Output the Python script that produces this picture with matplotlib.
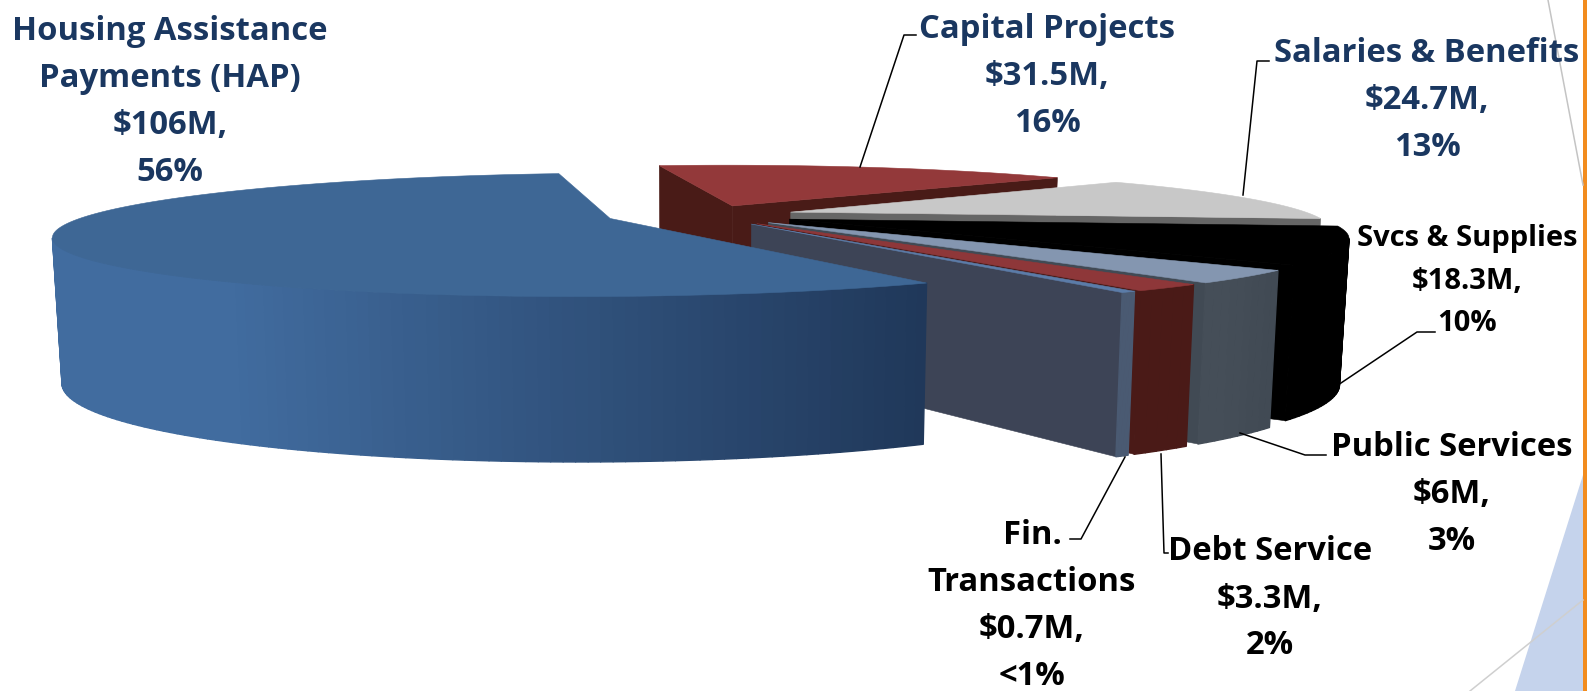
"""Exploded 3D pie of the budget split, projected by hand since matplotlib has no perspective pie."""

import numpy as np
import matplotlib
matplotlib.use("Agg")
import matplotlib.pyplot as plt
from matplotlib.collections import PolyCollection
from matplotlib.colors import to_rgb
from matplotlib.patches import Polygon

plt.rcParams["font.family"] = ["Open Sans", "DejaVu Sans"]

# Data, clockwise from the back of the pie
categories = ["Capital Projects", "Salaries & Benefits", "Svcs & Supplies", "Public Services",
              "Debt Service", "Fin.\nTransactions", "Housing Assistance\nPayments (HAP)"]
amounts = [31.5, 24.7, 18.3, 6.0, 3.3, 0.7, 106.0]
amount_labels = ["$31.5M,", "$24.7M,", "$18.3M,", "$6M,", "$3.3M,", "$0.7M,", "$106M,"]
share_labels = ["16%", "13%", "10%", "3%", "2%", "<1%", "56%"]

# Colours per slice: top, radial wall, arc wall (near end, far end)
top_colors = ["#93393a", "#c8c8c8", "#000000", "#8496b0", "#8e3739", "#5b7ca8", "#3e6795"]
cut_colors = ["#491b17", "#666666", "#000000", "#414a54", "#4a1a17", "#3d4456", "#1f3654"]
arc_colors = [("#491b17", "#491b17"), ("#666666", "#666666"), ("#000000", "#000000"),
              ("#414a54", "#454e58"), ("#4a1a17", "#4a1a17"), ("#4a5a72", "#4a5a72"),
              ("#20385a", "#416c9f")]
navy = "#1a3760"

# Projection settings, pixels
W, H = 1587, 691
CX, CY = 701, 215
RADIUS = 522
EXPLODE = 95
TILT = 0.1064
PERSP = 0.0005
DEPTH = 137
DEPTH_PERSP = 0.00031
BOTTOM_SHRINK = 1.015
START_ANGLE = -9.6


def project(x, y, bottom=False):
    w = 1 + PERSP * y
    if not bottom:
        return CX + x / w, CY - TILT * y / w
    return (CX + x / (w * BOTTOM_SHRINK),
            CY - TILT * y / w + DEPTH / (1 + DEPTH_PERSP * y))


def slice_points(a0, a1):
    """World coordinates of apex and outer arc, angles clockwise from the back."""
    mid = np.radians((a0 + a1) / 2)
    ox, oy = EXPLODE * np.sin(mid), EXPLODE * np.cos(mid)
    th = np.radians(np.linspace(a0, a1, max(int(a1 - a0), 6)))
    return ox, oy, ox + RADIUS * np.sin(th), oy + RADIUS * np.cos(th)


def facing(quad):
    """Signed area test in screen space (y down), true if the wall faces the camera."""
    q = np.asarray(quad)
    x, y = q[:, 0], q[:, 1]
    return np.sum(x * np.roll(y, -1) - np.roll(x, -1) * y) < 0


def wall_quad(x0, y0, x1, y1):
    return [project(x0, y0), project(x1, y1), project(x1, y1, True), project(x0, y0, True)]


def draw_slice(ax, a0, a1, top, cut, arc):
    ox, oy, xs, ys = slice_points(a0, a1)

    # Radial cut faces
    for quad in (wall_quad(ox, oy, xs[0], ys[0]), wall_quad(xs[-1], ys[-1], ox, oy)):
        if facing(quad):
            ax.add_patch(Polygon(quad, closed=True, fc=cut, ec=cut, lw=0.4))

    # Outer wall, shaded left to right across what is visible
    quads = []
    for i in range(len(xs) - 1):
        quad = wall_quad(xs[i], ys[i], xs[i + 1], ys[i + 1])
        if facing(quad):
            quads.append(quad)
    if quads:
        mid_x = np.array([np.mean(np.asarray(q)[:, 0]) for q in quads])
        span = max(np.ptp(mid_x), 1.0)
        t = np.clip((mid_x.max() - mid_x) / (0.8 * span), 0, 1)[:, None]
        c0, c1 = np.array(to_rgb(arc[0])), np.array(to_rgb(arc[1]))
        colors = c0 + (c1 - c0) * t
        ax.add_collection(PolyCollection(quads, facecolors=colors, edgecolors=colors, linewidths=1.0))

    # Top face
    px, py = project(xs, ys)
    ax_x, ax_y = project(ox, oy)
    outline = np.column_stack([np.r_[ax_x, px], np.r_[ax_y, py]])
    ax.add_patch(Polygon(outline, closed=True, fc=top, ec=top, lw=0.4))


def draw_backdrop(ax):
    # Slide theme pieces around the chart
    ax.add_patch(Polygon([(1583, 475), (1583, 691), (1515, 691)], closed=True, fc="#c5d3ec", ec="none"))
    ax.plot([1548, 1583], [0, 185], color="#c4c4c4", lw=1.1)
    ax.plot([1470, 1583], [691, 600], color="#cfcfcf", lw=1.1)
    ax.add_patch(Polygon([(1583, 0), (1587, 0), (1587, 691), (1583, 691)], closed=True, fc="#f28c1e", ec="none"))


def main():
    fig = plt.figure(figsize=(W / 100, H / 100), dpi=100)
    ax = fig.add_axes([0, 0, 1, 1])
    ax.set_xlim(0, W)
    ax.set_ylim(H, 0)
    ax.axis("off")

    draw_backdrop(ax)

    sweep = np.array(amounts) / sum(amounts) * 360
    edges = START_ANGLE + np.r_[0, np.cumsum(sweep)]
    for i in range(len(amounts)):
        draw_slice(ax, edges[i], edges[i + 1], top_colors[i], cut_colors[i], arc_colors[i])

    # Leader lines
    leaders = [
        [(860, 167), (904, 35), (916, 35)],
        [(1243, 195), (1257, 61), (1269, 61)],
        [(1338, 385), (1417, 332), (1435, 332)],
        [(1240, 433), (1305, 455), (1326, 455)],
        [(1161, 454), (1164, 553), (1168, 553)],
        [(1125, 457), (1081, 539), (1070, 539)],
    ]
    for pts in leaders:
        ax.plot(*zip(*pts), color="black", lw=1.1)

    # Labels: centre x, centre y, size, colour
    layout = [(1047, 76, 23.6, navy), (1427, 100, 23.6, navy), (1467, 281, 21, "black"),
              (1452, 494, 23.6, "black"), (1270, 599, 23.6, "black"), (1032, 606, 23.6, "black"),
              (170, 102, 23.6, navy)]
    for i, (x, y, size, color) in enumerate(layout):
        text = f"{categories[i]}\n{amount_labels[i]}\n{share_labels[i]}"
        line_gap = 1.56 if size > 22 else 1.6
        ax.text(x, y, text, ha="center", va="center", fontsize=size, fontweight="bold",
                color=color, linespacing=line_gap)

    fig.savefig("out.png", dpi=100)


if __name__ == "__main__":
    main()
